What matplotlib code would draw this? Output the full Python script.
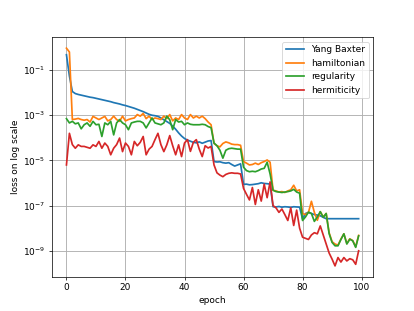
import matplotlib
matplotlib.use("Agg")
import matplotlib.pyplot as plt
import numpy as np

epochs = list(range(100))

# log10 of loss values
yang_baxter_log = [
    -0.32, -1.26, -1.95, -2.04, -2.08, -2.11, -2.14, -2.17, -2.20, -2.22,
    -2.25, -2.28, -2.31, -2.34, -2.37, -2.40, -2.44, -2.47, -2.50, -2.54,
    -2.57, -2.61, -2.65, -2.69, -2.74, -2.79, -2.84, -2.90, -2.96, -3.00,
    -3.02, -3.05, -3.12, -3.20, -3.28, -3.36, -3.48, -3.62, -3.78, -3.92,
    -4.03, -4.10, -4.15, -4.20, -4.22, -4.18, -4.24, -4.19, -4.14, -4.12,
    -5.05, -5.07, -5.06, -5.10, -5.12, -5.10, -5.18, -5.25, -5.20, -5.15,
    -6.06, -6.05, -6.08, -6.07, -6.05, -6.03, -5.99, -6.02, -6.03, -6.05,
    -7.05, -7.06, -7.04, -7.07, -7.05, -7.06, -7.08, -7.05, -7.06, -7.07,
    -7.60, -7.35, -7.30, -7.35, -7.40, -7.42, -7.45, -7.52, -7.58, -7.58,
    -7.58, -7.58, -7.58, -7.58, -7.58, -7.58, -7.58, -7.58, -7.58, -7.58,
]

hamiltonian_log = [
    -0.03, -0.20, -3.19, -3.17, -3.14, -3.19, -3.22, -3.19, -3.30, -3.05,
    -3.12, -3.19, -3.12, -3.05, -3.25, -3.19, -3.04, -3.19, -3.27, -3.04,
    -3.25, -3.19, -3.15, -3.12, -2.97, -3.04, -2.92, -3.15, -3.04, -3.19,
    -3.12, -3.15, -3.19, -3.04, -3.15, -2.97, -3.25, -3.12, -3.19, -2.97,
    -3.12, -3.19, -2.97, -3.12, -3.04, -3.12, -3.04, -3.15, -3.30, -3.42,
    -4.25, -4.35, -4.40, -4.25, -4.18, -4.22, -4.28, -4.30, -4.30, -4.33,
    -5.05, -5.12, -5.20, -5.18, -5.12, -5.18, -5.10, -5.05, -4.98, -5.08,
    -6.32, -6.35, -6.40, -6.38, -6.42, -6.35, -6.30, -6.10, -6.35, -6.30,
    -7.35, -7.40, -7.30, -6.81, -7.30, -7.65, -7.27, -7.50, -7.35, -8.20,
    -8.60, -8.70, -8.75, -8.48, -8.25, -8.68, -8.47, -8.55, -8.82, -8.32,
]

regularity_log = [
    -3.15, -3.34, -3.27, -3.38, -3.34, -3.60, -3.42, -3.34, -3.49, -3.27,
    -3.42, -3.40, -3.94, -3.34, -3.42, -3.27, -3.87, -3.34, -3.19, -3.34,
    -3.42, -3.64, -3.34, -3.30, -3.27, -3.27, -3.34, -3.56, -3.34, -3.12,
    -3.34, -3.38, -3.42, -3.34, -3.04, -3.20, -3.64, -3.19, -3.30, -3.27,
    -3.42, -3.34, -3.40, -3.42, -3.42, -3.42, -3.40, -3.42, -3.50, -3.55,
    -4.23, -4.35, -4.55, -4.90, -4.55, -4.48, -4.46, -4.48, -4.50, -4.50,
    -5.30, -5.45, -5.50, -5.48, -5.50, -5.45, -5.38, -5.35, -5.08, -5.60,
    -6.32, -6.38, -6.40, -6.42, -6.40, -6.38, -6.35, -6.28, -6.40, -6.45,
    -7.66, -7.50, -7.29, -7.35, -7.70, -7.50, -7.27, -7.52, -7.35, -8.24,
    -8.63, -8.78, -8.78, -8.50, -8.25, -8.70, -8.49, -8.56, -8.85, -8.34,
]

hermiticity_log = [
    -5.20, -3.80, -4.30, -4.46, -4.31, -4.38, -4.38, -4.42, -4.46, -4.31,
    -4.38, -4.16, -4.46, -4.23, -4.38, -4.75, -4.46, -4.30, -4.01, -4.61,
    -4.23, -4.38, -4.75, -4.16, -4.35, -4.20, -3.94, -4.75, -4.50, -4.38,
    -4.08, -3.80, -4.30, -4.61, -4.31, -3.90, -4.35, -4.75, -4.31, -4.83,
    -4.23, -4.08, -4.60, -4.20, -4.08, -4.50, -4.83, -4.35, -4.45, -4.38,
    -5.20, -5.55, -5.65, -5.72, -5.62, -5.57, -5.55, -5.57, -5.57, -5.60,
    -6.24, -6.50, -6.75, -6.20, -6.95, -6.30, -6.80, -6.05, -6.65, -5.95,
    -7.00, -7.10, -7.30, -7.15, -7.40, -7.66, -7.10, -7.88, -7.20, -8.00,
    -8.40, -8.45, -8.50, -8.30, -8.20, -8.25, -7.90, -8.30, -8.70, -9.10,
    -9.37, -9.67, -9.30, -9.50, -9.30, -9.45, -9.35, -9.40, -9.60, -9.00,
]

series = [
    ("Yang Baxter", yang_baxter_log),
    ("hamiltonian", hamiltonian_log),
    ("regularity", regularity_log),
    ("hermiticity", hermiticity_log),
]

fig, ax = plt.subplots(figsize=(6.4, 4.8), dpi=64.8)
for label, vals in series:
    ax.plot(epochs, 10.0 ** np.array(vals), label=label, linewidth=1.9)
ax.set_yscale("log")
ax.set_xlabel("epoch")
ax.set_ylabel("loss on log scale")
ax.grid(True, linewidth=1.0)
leg = ax.legend(loc="upper right")
for line in leg.get_lines():
    line.set_linewidth(1.9)
fig.savefig("out.png", dpi=64.8)
